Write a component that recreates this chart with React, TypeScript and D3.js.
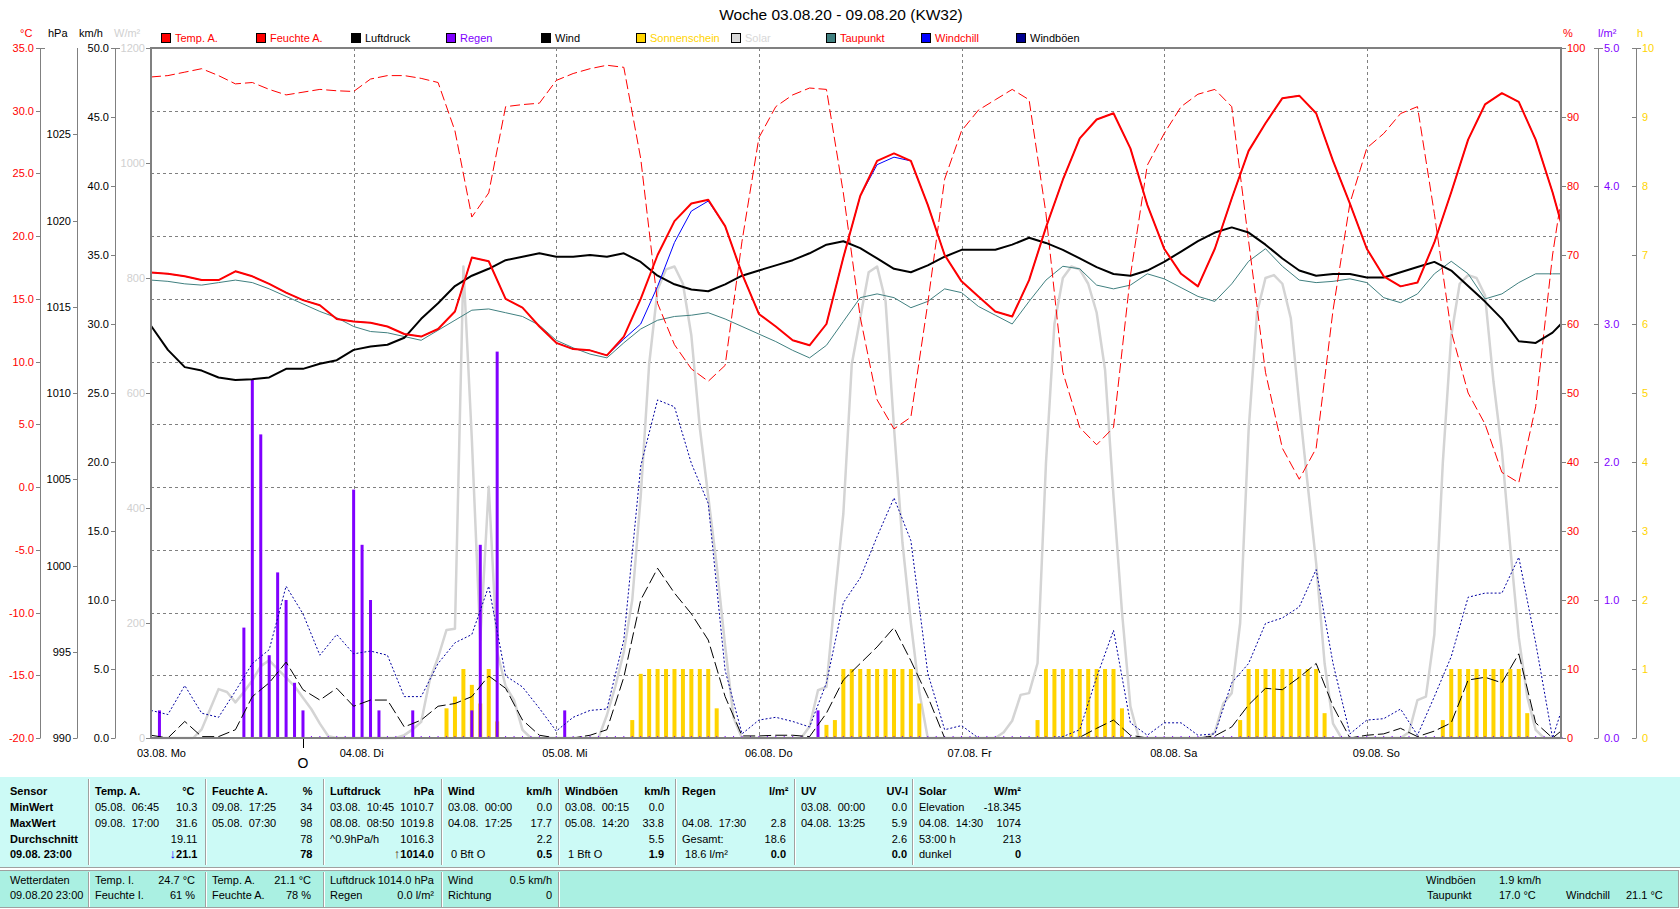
import React from 'react';
import * as d3 from 'd3';

const FONT = '"Liberation Sans", Arial, sans-serif';

// ---- x axis ----
const dates = ['03.08.', '04.08.', '05.08.', '06.08.', '07.08.', '08.08.', '09.08.'];
const weekdays = ['Mo', 'Di', 'Mi', 'Do', 'Fr', 'Sa', 'So'];

// ---- 2-hourly series (00:00, 02:00 ... 22:00 each day, last point 09.08. 23:00) ----
const tempA = [
  17.1, 17.0, 16.8, 16.5, 16.5, 17.2, 16.8, 16.2, 15.5, 14.9,
  14.5, 13.4, 13.2, 13.1, 12.8, 12.2, 12.0, 12.6, 14.0, 18.3,
  18.0, 15.0, 14.3, 12.8, 11.5, 11.0, 10.9, 10.5, 12.0, 15.0,
  18.5, 21.2, 22.6, 22.9, 20.8, 17.0, 13.8, 12.8, 11.7, 11.3,
  13.0, 18.3, 23.2, 26.0, 26.6, 26.0, 22.5, 18.5, 16.4, 15.2,
  14.0, 13.6, 16.5, 20.7, 24.5, 27.8, 29.3, 29.8, 27.0, 22.5,
  19.0, 17.0, 16.0, 19.0, 23.0, 26.8, 29.0, 31.0, 31.2, 29.8,
  26.0, 22.6, 19.0, 16.8, 16.0, 16.3, 19.5, 23.5, 27.7, 30.5,
  31.4, 30.7, 27.7, 23.5, 21.1,
];
const windchill = [
  17.1, 17.0, 16.8, 16.5, 16.5, 17.2, 16.8, 16.2, 15.5, 14.9,
  14.5, 13.4, 13.2, 13.1, 12.8, 12.2, 12.0, 12.6, 14.0, 18.3,
  18.0, 15.0, 14.3, 12.8, 11.5, 11.0, 10.9, 10.5, 11.8, 13.0,
  16.0, 19.5, 22.0, 22.8, 20.8, 17.0, 13.8, 12.8, 11.7, 11.3,
  13.0, 18.3, 23.2, 25.7, 26.3, 26.0, 22.5, 18.5, 16.4, 15.2,
  14.0, 13.6, 16.5, 20.7, 24.5, 27.8, 29.3, 29.8, 27.0, 22.5,
  19.0, 17.0, 16.0, 19.0, 23.0, 26.8, 29.0, 31.0, 31.2, 29.8,
  26.0, 22.6, 19.0, 16.8, 16.0, 16.3, 19.5, 23.5, 27.7, 30.5,
  31.4, 30.7, 27.7, 23.5, 21.1,
];
const humidity = [
  95.8, 96, 96.5, 97, 96, 94.8, 95, 94, 93.2, 93.6,
  94, 93.8, 93.7, 95.5, 96, 96, 95.6, 95, 88, 75.5,
  79, 91.5, 91.8, 92, 95.3, 96.3, 97, 97.5, 97.2, 84,
  63, 57, 53.5, 51.7, 54, 72, 87, 91.5, 93.2, 94.2,
  94, 79, 61, 49, 44.8, 46.5, 63, 81, 88, 91,
  92.5, 94, 92.5, 76, 53, 45, 42.5, 45, 67, 83,
  87.6, 91.5, 93.3, 94, 91.5, 72, 53, 42, 37.5, 42,
  62, 77.5, 85.5, 87.6, 90.5, 91.5, 76, 58.9, 50, 45.5,
  38.5, 37, 48, 70, 78,
];
const pressure = [
  1013.9, 1012.5, 1011.5, 1011.3, 1010.9, 1010.75, 1010.8, 1010.9, 1011.4, 1011.4,
  1011.7, 1011.9, 1012.5, 1012.7, 1012.8, 1013.2, 1014.3, 1015.2, 1016.2, 1016.8,
  1017.2, 1017.7, 1017.9, 1018.1, 1017.9, 1017.9, 1018.0, 1017.9, 1018.1, 1017.6,
  1016.8, 1016.3, 1016.0, 1015.9, 1016.3, 1016.8, 1017.1, 1017.4, 1017.7, 1018.1,
  1018.6, 1018.8, 1018.4, 1017.8, 1017.2, 1017.0, 1017.4, 1017.9, 1018.3, 1018.3,
  1018.3, 1018.6, 1019.0, 1018.7, 1018.3, 1017.8, 1017.3, 1016.9, 1016.8, 1017.1,
  1017.6, 1018.2, 1018.8, 1019.3, 1019.6, 1019.3, 1018.6, 1017.8, 1017.1, 1016.8,
  1016.9, 1016.9, 1016.7, 1016.7, 1017.0, 1017.3, 1017.6, 1017.1, 1016.2, 1015.3,
  1014.3, 1013.0, 1012.9, 1013.5, 1014.0,
];
const dewPoint = [
  16.5, 16.4, 16.2, 16.1, 16.3, 16.5, 16.3, 15.8, 15.2, 14.6,
  14.0, 13.5, 12.8, 12.4, 12.3, 12.0, 11.7, 12.5, 13.3, 14.1,
  14.2, 13.9, 13.6, 12.9, 11.7, 11.1, 10.6, 10.3, 11.5, 12.6,
  13.3, 13.6, 13.7, 13.9, 13.4, 12.8, 12.2, 11.6, 10.9, 10.3,
  11.3, 13.2, 15.1, 15.4, 15.1, 14.3, 14.8, 15.8, 15.5, 14.4,
  13.7, 13.0, 14.8, 16.5, 17.6, 17.4, 16.1, 15.8, 16.1, 17.0,
  16.6, 15.9, 15.2, 14.8, 16.2, 18.0, 19.0, 17.6, 16.5, 16.3,
  16.4, 16.6, 16.3, 15.1, 14.7, 15.4, 17.0, 18.0, 17.0, 15.0,
  15.4, 16.3, 17.0, 17.0, 17.0,
];
const wind = [
  0.2, 0, 1.2, 0.1, 0.1, 0.6, 3.0, 4.0, 5.5, 3.5,
  2.75, 3.6, 2.3, 2.75, 2.75, 0.8, 1.3, 2.3, 2.5, 3.0,
  4.5, 3.6, 1.3, 0.2, 0, 0, 0.2, 0.6, 4.4, 10.0,
  12.3, 10.5, 9.0, 7.1, 3.0, 0.15, 0.15, 0.2, 0.2, 0.1,
  1.8, 4.2, 5.4, 6.6, 8.0, 5.6, 3.0, 0, 0, 0,
  0, 0, 0, 0, 0, 0.05, 0.7, 1.3, 0.2, 0,
  0, 0, 0, 0.15, 0.8, 2.4, 3.6, 3.5, 4.4, 5.4,
  2.3, 0, 0.2, 0.3, 0.7, 0.1, 0.5, 1.1, 4.2, 4.4,
  4.0, 6.1, 1.1, 0, 0.5,
];
const gusts = [
  2.0, 1.7, 3.8, 1.8, 1.5, 3.4, 5.4, 6.4, 11.0, 9.0,
  6.0, 7.5, 6.1, 6.3, 6.0, 3.0, 3.0, 5.4, 6.9, 7.5,
  11.0, 4.5, 3.7, 2.15, 0.5, 1.5, 2.0, 2.1, 7.1, 19.7,
  24.5, 24.0, 19.9, 17.0, 4.9, 0.3, 1.3, 1.5, 1.2, 0.8,
  4.0, 9.8, 11.6, 14.6, 17.4, 14.3, 4.7, 0.6, 0.9, 0,
  0, 0, 0, 0, 0.1, 0.6, 4.4, 7.8, 1.1, 0.2,
  1.1, 1.1, 0.2, 0.3, 4.0, 5.4, 8.3, 8.7, 9.5, 12.2,
  5.4, 0.3, 1.3, 1.4, 2.1, 0.2, 3.0, 5.9, 10.2, 10.5,
  10.5, 13.1, 6.9, 0, 1.9,
];

// ---- hourly series, one array per day ----
const solarMo = [0, 0, 0, 0, 0, 0, 15, 50, 85, 80, 62, 80, 100, 125, 135, 120, 105, 90, 70, 50, 25, 3, 0, 0];
const solarDi = [0, 0, 0, 0, 0, 0, 5, 15, 28, 100, 140, 188, 190, 820, 520, 170, 437, 150, 90, 66, 14, 0, 0, 0];
const solarMi = [0, 0, 0, 0, 0, 0, 40, 90, 150, 240, 420, 650, 780, 815, 820, 790, 700, 540, 420, 300, 160, 35, 0, 0];
const solarDo = [0, 0, 0, 0, 0, 0, 20, 83, 89, 246, 390, 650, 730, 810, 820, 760, 540, 340, 200, 80, 0, 0, 0, 0];
const solarFr = [0, 0, 0, 0, 0, 10, 30, 75, 78, 130, 478, 720, 800, 820, 815, 790, 740, 640, 420, 220, 55, 0, 0, 0];
const solarSa = [0, 0, 0, 0, 0, 0, 10, 60, 78, 200, 535, 740, 800, 805, 790, 730, 580, 440, 304, 130, 25, 0, 0, 0];
const solarSo = [0, 0, 0, 0, 0, 10, 66, 72, 180, 478, 700, 790, 805, 800, 770, 620, 500, 330, 175, 72, 14, 0, 0, 0];

const sunMo = [0, 0, 0, 0, 0, 0, 0, 0, 0, 0, 0, 0, 0, 0, 0, 0, 0, 0, 0, 0, 0, 0, 0, 0];
const sunDi = [0, 0, 0, 0, 0, 0, 0, 0, 0, 0, 0, 0.43, 0.6, 1, 0.77, 0.5, 1, 0.24, 0, 0, 0, 0, 0, 0];
const sunMi = [0, 0, 0, 0, 0, 0, 0, 0, 0, 0.26, 0.93, 1, 1, 1, 1, 1, 1, 1, 1, 0.43, 0, 0, 0, 0];
const sunDo = [0, 0, 0, 0, 0, 0, 0, 0, 0.19, 0.26, 1, 1, 1, 1, 1, 1, 1, 1, 1, 0.5, 0, 0, 0, 0];
const sunFr = [0, 0, 0, 0, 0, 0, 0, 0, 0, 0.26, 1, 1, 1, 1, 1, 1, 1, 1, 1, 0.43, 0, 0, 0, 0];
const sunSa = [0, 0, 0, 0, 0, 0, 0, 0, 0, 0.26, 1, 1, 1, 1, 1, 1, 1, 1, 1, 0.36, 0, 0, 0, 0];
const sunSo = [0, 0, 0, 0, 0, 0, 0, 0, 0, 0.26, 1, 1, 1, 1, 1, 1, 1, 1, 1, 0.36, 0, 0, 0, 0];

const rainMo = [0, 0.2, 0, 0, 0, 0, 0, 0, 0, 0, 0, 0.8, 2.6, 2.2, 0.6, 1.2, 1.0, 0.4, 0.2, 0, 0, 0, 0, 0];
const rainDi = [1.8, 1.4, 1.0, 0.2, 0, 0, 0, 0.2, 0, 0, 0, 0, 0, 0, 0.2, 1.4, 0, 2.8, 0, 0, 0, 0, 0, 0];
const rainMi = [0, 0.2, 0, 0, 0, 0, 0, 0, 0, 0, 0, 0, 0, 0, 0, 0, 0, 0, 0, 0, 0, 0, 0, 0];
const rainDo = [0, 0, 0, 0, 0, 0, 0, 0.2, 0, 0, 0, 0, 0, 0, 0, 0, 0, 0, 0, 0, 0, 0, 0, 0];
const rainFr = [0, 0, 0, 0, 0, 0, 0, 0, 0, 0, 0, 0, 0, 0, 0, 0, 0, 0, 0, 0, 0, 0, 0, 0];
const rainSa = [0, 0, 0, 0, 0, 0, 0, 0, 0, 0, 0, 0, 0, 0, 0, 0, 0, 0, 0, 0, 0, 0, 0, 0];
const rainSo = [0, 0, 0, 0, 0, 0, 0, 0, 0, 0, 0, 0, 0, 0, 0, 0, 0, 0, 0, 0, 0, 0, 0, 0];
const rainMarksFrom = 19;

const markHours = [18];
const markLabels = ['O'];

// ---- axis ticks ----
const tempTicks = [-20, -15, -10, -5, 0, 5, 10, 15, 20, 25, 30, 35];
const pressTicks = [990, 995, 1000, 1005, 1010, 1015, 1020, 1025];
const windTicks = [0, 5, 10, 15, 20, 25, 30, 35, 40, 45, 50];
const solarTicks = [0, 200, 400, 600, 800, 1000, 1200];
const humTicks = [0, 10, 20, 30, 40, 50, 60, 70, 80, 90, 100];
const rainTicks = [0, 1, 2, 3, 4, 5];
const sunTicks = [0, 1, 2, 3, 4, 5, 6, 7, 8, 9, 10];

const C = {
  temp: '#ff0000', hum: '#ff0000', press: '#000000', rain: '#8000ff', wind: '#000000',
  sun: '#ffd400', solar: '#d4d4d4', dew: '#408080', chill: '#0000ff', gust: '#0000a0',
  axis: '#808080', solarText: '#d0d0d0',
};

const legendItems = [
  { label: 'Temp. A.', box: C.temp, text: C.temp },
  { label: 'Feuchte A.', box: C.hum, text: C.hum },
  { label: 'Luftdruck', box: '#000000', text: '#000000' },
  { label: 'Regen', box: C.rain, text: C.rain },
  { label: 'Wind', box: '#000000', text: '#000000' },
  { label: 'Sonnenschein', box: C.sun, text: C.sun },
  { label: 'Solar', box: '#d8d8d8', text: '#d8d8d8' },
  { label: 'Taupunkt', box: C.dew, text: '#ff0000' },
  { label: 'Windchill', box: C.chill, text: '#ff0000' },
  { label: 'Windböen', box: '#000090', text: '#000000' },
];

// ---- table ----
const rowLabels = ['Sensor', 'MinWert', 'MaxWert', 'Durchschnitt', '09.08. 23:00'];
const statCols = [
  { head: 'Temp. A.', unit: '°C', unitR: 194.5, valR: 197.5,
    left: ['05.08.  06:45', '09.08.  17:00', '', ''], right: ['10.3', '31.6', '19.11', '21.1'], arrow: '↓', arrowColor: '#0000ff' },
  { head: 'Feuchte A.', unit: '%', unitR: 312.5, valR: 312.5,
    left: ['09.08.  17:25', '05.08.  07:30', '', ''], right: ['34', '98', '78', '78'] },
  { head: 'Luftdruck', unit: 'hPa', unitR: 434, valR: 434,
    left: ['03.08.  10:45', '08.08.  08:50', '^0.9hPa/h', ''], right: ['1010.7', '1019.8', '1016.3', '1014.0'], arrow: '↑', arrowColor: '#502000' },
  { head: 'Wind', unit: 'km/h', unitR: 552, valR: 552,
    left: ['03.08.  00:00', '04.08.  17:25', '', ' 0 Bft O'], right: ['0.0', '17.7', '2.2', '0.5'] },
  { head: 'Windböen', unit: 'km/h', unitR: 670, valR: 664,
    left: ['03.08.  00:15', '05.08.  14:20', '', ' 1 Bft O'], right: ['0.0', '33.8', '5.5', '1.9'] },
  { head: 'Regen', unit: 'l/m²', unitR: 788.5, valR: 786,
    left: ['', '04.08.  17:30', 'Gesamt:', ' 18.6 l/m²'], right: ['', '2.8', '18.6', '0.0'] },
  { head: 'UV', unit: 'UV-I', unitR: 908, valR: 907,
    left: ['03.08.  00:00', '04.08.  13:25', '', ''], right: ['0.0', '5.9', '2.6', '0.0'] },
  { head: 'Solar', unit: 'W/m²', unitR: 1021, valR: 1021,
    left: ['Elevation', '04.08.  14:30', '53:00 h', 'dunkel'], right: ['-18.345', '1074', '213', '0'] },
];
const colSeps = [88, 205, 323, 441, 558, 675, 794, 912];

const currentLabels = ['Wetterdaten', '09.08.20 23:00'];
const currentCols = [
  { left: ['Temp. I.', 'Feuchte I.'], right: ['24.7 °C', '61 %'], valR: 195 },
  { left: ['Temp. A.', 'Feuchte A.'], right: ['21.1 °C', '78 %'], valR: 311 },
  { left: ['Luftdruck', 'Regen'], right: ['1014.0 hPa', '0.0 l/m²'], valR: 434 },
  { left: ['Wind', 'Richtung'], right: ['0.5 km/h', '0'], valR: 552 },
];
const currentExtra = [
  { label: 'Windböen', value: '1.9 km/h', lx: 1426, vx: 1499, row: 0 },
  { label: 'Taupunkt', value: '17.0 °C', lx: 1427, vx: 1499, row: 1 },
  { label: 'Windchill', value: '21.1 °C', lx: 1566, vx: 1626, row: 1 },
];

export default function App() {
  const L = 151, R = 1561, T = 48, B = 738;
  const x = d3.scaleLinear().domain([0, 167]).range([L, R]);
  const yC = d3.scaleLinear().domain([-20, 35]).range([B, T]);
  const yP = d3.scaleLinear().domain([990, 1030]).range([B, T]);
  const yK = d3.scaleLinear().domain([0, 50]).range([B, T]);
  const yS = d3.scaleLinear().domain([0, 1200]).range([B, T]);
  const yH = d3.scaleLinear().domain([0, 100]).range([B, T]);
  const yR = d3.scaleLinear().domain([0, 5]).range([B, T]);
  const ySun = d3.scaleLinear().domain([0, 10]).range([B, T]);

  const t2 = (i: number) => Math.min(i * 2, 167);
  const line2 = (y: d3.ScaleLinear<number, number>) =>
    d3.line<number>().x((_, i) => x(t2(i))).y((d) => y(d));

  const solar = [solarMo, solarDi, solarMi, solarDo, solarFr, solarSa, solarSo].flat();
  const sun = [sunMo, sunDi, sunMi, sunDo, sunFr, sunSa, sunSo].flat();
  const rain = [rainMo, rainDi, rainMi, rainDo, rainFr, rainSa, rainSo].flat();
  const solarLine = d3.line<number>().x((_, i) => x(i)).y((d) => yS(d));

  const fs = 11;
  const rowY = [795, 810.5, 826.5, 842.5, 858];
  const lowY = [883.5, 898.5];

  return (
    <svg width={1680} height={909} style={{ position: 'absolute', left: 0, top: 0, display: 'block', fontFamily: FONT }}>
      <rect x={0} y={0} width={1680} height={909} fill="#ffffff" />

      {/* title */}
      <text x={841} y={20} textAnchor="middle" fontSize={15.5} fill="#000">Woche 03.08.20 - 09.08.20 (KW32)</text>

      {/* unit labels */}
      <g fontSize={fs}>
        <text x={20} y={36.5} fill="#ff0000">°C</text>
        <text x={48} y={36.5} fill="#000">hPa</text>
        <text x={79} y={36.5} fill="#000">km/h</text>
        <text x={114} y={36.5} fill={C.solarText}>W/m²</text>
        <text x={1563} y={36.5} fill="#ff0000">%</text>
        <text x={1598} y={36.5} fill={C.rain}>l/m²</text>
        <text x={1637} y={36.5} fill={C.sun}>h</text>
      </g>

      {/* legend */}
      <g fontSize={fs}>
        {legendItems.map((it, i) => (
          <g key={it.label} transform={`translate(${161 + 95 * i},0)`}>
            <rect x={0.5} y={33.5} width={9} height={9} fill={it.box} stroke="#000" />
            <text x={14} y={42} fill={it.text}>{it.label}</text>
          </g>
        ))}
      </g>

      {/* left axes */}
      <g fontSize={fs} stroke="none">
        <line x1={40.5} x2={40.5} y1={T} y2={B} stroke={C.axis} />
        <line x1={36} x2={45} y1={T + 0.5} y2={T + 0.5} stroke={C.axis} />
        {tempTicks.map((v) => (
          <g key={'c' + v}>
            <line x1={36} x2={40.5} y1={Math.round(yC(v)) + 0.5} y2={Math.round(yC(v)) + 0.5} stroke={C.axis} />
            <text x={34} y={yC(v) + 4} textAnchor="end" fill="#ff0000">{v.toFixed(1)}</text>
          </g>
        ))}
        <line x1={77.5} x2={77.5} y1={T} y2={B} stroke={C.axis} />
        {pressTicks.map((v) => (
          <g key={'p' + v}>
            <line x1={73} x2={77.5} y1={Math.round(yP(v)) + 0.5} y2={Math.round(yP(v)) + 0.5} stroke={C.axis} />
            <text x={71} y={yP(v) + 4} textAnchor="end" fill="#000">{v}</text>
          </g>
        ))}
        <line x1={115.5} x2={115.5} y1={T} y2={B} stroke={C.axis} />
        <line x1={111} x2={120} y1={T + 0.5} y2={T + 0.5} stroke={C.axis} />
        {windTicks.map((v) => (
          <g key={'k' + v}>
            <line x1={111} x2={115.5} y1={Math.round(yK(v)) + 0.5} y2={Math.round(yK(v)) + 0.5} stroke={C.axis} />
            <text x={109} y={yK(v) + 4} textAnchor="end" fill="#000">{v.toFixed(1)}</text>
          </g>
        ))}
        {solarTicks.map((v) => (
          <g key={'s' + v}>
            <line x1={146} x2={L} y1={Math.round(yS(v)) + 0.5} y2={Math.round(yS(v)) + 0.5} stroke={C.axis} />
            <text x={145} y={yS(v) + 4} textAnchor="end" fill={C.solarText}>{v}</text>
          </g>
        ))}
      </g>

      {/* right axes */}
      <g fontSize={fs}>
        {humTicks.map((v) => (
          <g key={'h' + v}>
            <line x1={R} x2={1566} y1={Math.round(yH(v)) + 0.5} y2={Math.round(yH(v)) + 0.5} stroke={C.axis} />
            <text x={1567} y={yH(v) + 4} fill="#ff0000">{v}</text>
          </g>
        ))}
        <line x1={1598.5} x2={1598.5} y1={T} y2={B} stroke={C.axis} />
        <line x1={1594} x2={1603} y1={T + 0.5} y2={T + 0.5} stroke={C.axis} />
        {rainTicks.map((v) => (
          <g key={'r' + v}>
            <line x1={1594} x2={1598.5} y1={Math.round(yR(v)) + 0.5} y2={Math.round(yR(v)) + 0.5} stroke={C.axis} />
            <text x={1604} y={yR(v) + 4} fill={C.rain}>{v.toFixed(1)}</text>
          </g>
        ))}
        <line x1={1636.5} x2={1636.5} y1={T} y2={B} stroke={C.axis} />
        <line x1={1632} x2={1641} y1={T + 0.5} y2={T + 0.5} stroke={C.axis} />
        {sunTicks.map((v) => (
          <g key={'u' + v}>
            <line x1={1632} x2={1636.5} y1={Math.round(ySun(v)) + 0.5} y2={Math.round(ySun(v)) + 0.5} stroke={C.axis} />
            <text x={1642} y={ySun(v) + 4} fill={C.sun}>{v}</text>
          </g>
        ))}
      </g>

      {/* grid */}
      <g stroke={C.axis} strokeDasharray="3,3" strokeWidth={1}>
        {tempTicks.slice(1, -1).map((v) => (
          <line key={'g' + v} x1={L} x2={R} y1={Math.round(yC(v)) + 0.5} y2={Math.round(yC(v)) + 0.5} />
        ))}
        {dates.slice(1).map((_, i) => (
          <line key={'d' + i} x1={Math.round(x((i + 1) * 24)) + 0.5} x2={Math.round(x((i + 1) * 24)) + 0.5} y1={T} y2={B} />
        ))}
      </g>

      {/* day labels */}
      <g fontSize={fs} fill="#000">
        {dates.map((d, i) => (
          <text key={d} x={x(i * 24) - 14} y={757} xmlSpace="preserve">{`${d} ${weekdays[i]}`}</text>
        ))}
        {markHours.map((h, i) => (
          <g key={'m' + h}>
            <line x1={Math.round(x(h)) + 0.5} x2={Math.round(x(h)) + 0.5} y1={B} y2={B + 10} stroke="#000" />
            <text x={x(h)} y={768} textAnchor="middle" fontSize={14}>{markLabels[i]}</text>
          </g>
        ))}
      </g>

      {/* solar */}
      <path d={solarLine(solar) || ''} fill="none" stroke={C.solar} strokeWidth={2.5} strokeLinejoin="round" />

      {/* sunshine bars */}
      {sun.map((v, i) => v > 0 && (
        <rect key={'sun' + i} x={x(i) - 2} y={ySun(v)} width={4} height={B - ySun(v)} fill={C.sun} />
      ))}
      {/* rain bars */}
      {rain.map((v, i) => v > 0 && (
        <rect key={'rain' + i} x={x(i) - 1.5} y={yR(v)} width={3} height={B - yR(v)} fill={C.rain} />
      ))}
      {rain.map((v, i) => v === 0 && i >= rainMarksFrom && (
        <path key={'rz' + i} d={`M${x(i) - 1.5},${B - 0.5}h3M${x(i)},${B - 2}v3`} stroke={C.rain} strokeWidth={1} />
      ))}

      {/* wind lines */}
      <path d={line2(yK)(gusts) || ''} fill="none" stroke={C.gust} strokeWidth={1} strokeDasharray="2,2" />
      <path d={line2(yK)(wind) || ''} fill="none" stroke={C.wind} strokeWidth={1} strokeDasharray="12,4" />

      {/* temperature family */}
      <path d={line2(yC)(dewPoint) || ''} fill="none" stroke={C.dew} strokeWidth={1} />
      <path d={line2(yH)(humidity) || ''} fill="none" stroke={C.hum} strokeWidth={1} strokeDasharray="10,4" />
      <path d={line2(yP)(pressure) || ''} fill="none" stroke={C.press} strokeWidth={2} strokeLinejoin="round" />
      <path d={line2(yC)(windchill) || ''} fill="none" stroke={C.chill} strokeWidth={1} />
      <path d={line2(yC)(tempA) || ''} fill="none" stroke={C.temp} strokeWidth={2} strokeLinejoin="round" />

      {/* frame */}
      <rect x={L} y={T} width={R - L} height={B - T} fill="none" stroke={C.axis} strokeWidth={2} />

      {/* statistics panel */}
      <rect x={0} y={777} width={1680} height={90} fill="#ccfaf6" />
      <line x1={0} x2={1680} y1={867.5} y2={867.5} stroke="#a0a0a0" />
      <rect x={0} y={870} width={1678} height={37} fill="#aaf0e2" />
      <line x1={0} x2={1678} y1={870.5} y2={870.5} stroke="#a0a0a0" />
      <line x1={0} x2={1678} y1={907.5} y2={907.5} stroke="#a0a0a0" />
      <line x1={1678.5} x2={1678.5} y1={870} y2={908} stroke="#a0a0a0" />
      {colSeps.map((s) => (
        <g key={'sep' + s}>
          <line x1={s + 0.5} x2={s + 0.5} y1={779} y2={865} stroke="#a0a0a0" />
          <line x1={s + 1.5} x2={s + 1.5} y1={779} y2={865} stroke="#ffffff" />
        </g>
      ))}
      {colSeps.slice(0, 5).map((s) => (
        <g key={'sepl' + s}>
          <line x1={s + 0.5} x2={s + 0.5} y1={872} y2={907} stroke="#a0a0a0" />
          <line x1={s + 1.5} x2={s + 1.5} y1={872} y2={907} stroke="#ffffff" />
        </g>
      ))}

      <g fontSize={fs} fill="#000">
        {rowLabels.map((r, i) => (
          <text key={r} x={10} y={rowY[i]} fontWeight="bold" xmlSpace="preserve">{r}</text>
        ))}
        {statCols.map((c, ci) => (
          <g key={c.head}>
            <text x={colSeps[ci] + 7} y={rowY[0]} fontWeight="bold">{c.head}</text>
            <text x={c.unitR} y={rowY[0]} fontWeight="bold" textAnchor="end">{c.unit}</text>
            {c.left.map((t, ri) => t && (
              <text key={'l' + ri} x={colSeps[ci] + 7} y={rowY[ri + 1]} xmlSpace="preserve">{t}</text>
            ))}
            {c.right.map((t, ri) => t && (
              <text key={'r' + ri} x={c.valR} y={rowY[ri + 1]} textAnchor="end" fontWeight={ri === 3 ? 'bold' : 'normal'}>
                {ri === 3 && c.arrow ? <tspan fill={c.arrowColor} fontSize={13}>{c.arrow}</tspan> : null}
                {t}
              </text>
            ))}
          </g>
        ))}

        {currentLabels.map((r, i) => (
          <text key={r} x={10} y={lowY[i]}>{r}</text>
        ))}
        {currentCols.map((c, ci) => (
          <g key={'cur' + ci}>
            {c.left.map((t, ri) => (
              <text key={'l' + ri} x={colSeps[ci] + 7} y={lowY[ri]}>{t}</text>
            ))}
            {c.right.map((t, ri) => (
              <text key={'r' + ri} x={c.valR} y={lowY[ri]} textAnchor="end">{t}</text>
            ))}
          </g>
        ))}
        {currentExtra.map((e) => (
          <g key={e.label}>
            <text x={e.lx} y={lowY[e.row]}>{e.label}</text>
            <text x={e.vx} y={lowY[e.row]}>{e.value}</text>
          </g>
        ))}
      </g>
    </svg>
  );
}
